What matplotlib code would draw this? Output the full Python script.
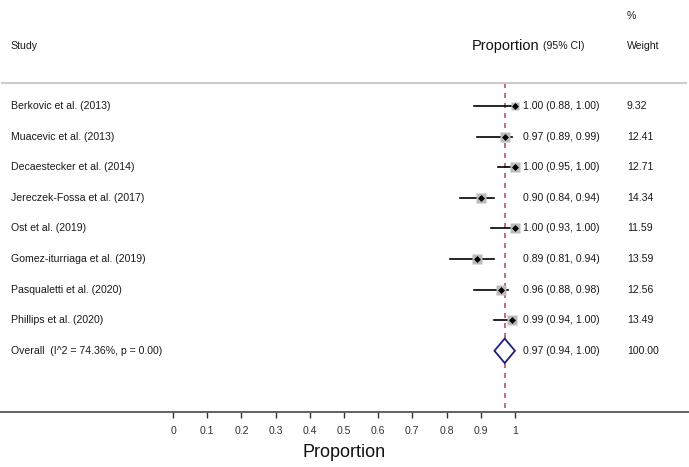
import numpy as np
import matplotlib.pyplot as plt

plt.rcParams['font.family'] = 'Liberation Sans'

# Study data
studies = ["Berkovic et al. (2013)", "Muacevic et al. (2013)", "Decaestecker et al. (2014)",
           "Jereczek-Fossa et al. (2017)", "Ost et al. (2019)", "Gomez-iturriaga et al. (2019)",
           "Pasqualetti et al. (2020)", "Phillips et al. (2020)"]
est = [1.00, 0.97, 1.00, 0.90, 1.00, 0.89, 0.96, 0.99]
lo = [0.88, 0.89, 0.95, 0.84, 0.93, 0.81, 0.88, 0.94]
hi = [1.00, 0.99, 1.00, 0.94, 1.00, 0.94, 0.98, 1.00]
weight = [9.32, 12.41, 12.71, 14.34, 11.59, 13.59, 12.56, 13.49]

overall_label = "Overall  (I^2 = 74.36%, p = 0.00)"
overall_est, overall_lo, overall_hi = 0.97, 0.94, 1.00
overall_weight = 100.00

ticks = [0, 0.1, 0.2, 0.3, 0.4, 0.5, 0.6, 0.7, 0.8, 0.9, 1]
tick_labels = ["0", "0.1", "0.2", "0.3", "0.4", "0.5", "0.6", "0.7", "0.8", "0.9", "1"]

fig = plt.figure(figsize=(6.89, 4.67), dpi=100)
ax = fig.add_axes([0, 55 / 467, 1, 412 / 467])
ax.set_xlim(-0.506, 1.509)
ax.set_ylim(10.0, -3.464)

rows = np.arange(len(studies))
fs = 7.6
tc = '#1a1a1a'
x_lab = -0.474
x_ci = 1.023
x_w = 1.327

# header
ax.text(x_lab, -1.95, "Study", fontsize=fs, va='center', color=tc)
ax.text(0.874, -1.95, "Proportion", fontsize=10.5, va='center', color='#111111')
ax.text(1.082, -1.95, "(95% CI)", fontsize=fs, va='center', color=tc)
ax.text(x_w, -2.95, "%", fontsize=fs, va='center', color=tc)
ax.text(x_w, -1.95, "Weight", fontsize=fs, va='center', color=tc)
ax.plot([-0.5, 1.5], [-0.75, -0.75], color='#cccccc', lw=1.5)

# reference line at pooled estimate
ax.plot([overall_est, overall_est], [-0.75, 10.0], color='#b5536b', lw=1.2,
        dashes=(3, 3), zorder=1)

# study rows
for i in rows:
    ax.plot([lo[i], hi[i]], [i, i], color='black', lw=1.2, zorder=2)
    ax.plot(est[i], i, marker='s', ms=2.0 * np.sqrt(weight[i]), color='#bbbbbb',
            mec='none', zorder=3)
    ax.plot(est[i], i, marker='D', ms=3.0, color='black', mew=0.5, zorder=4)
    ax.text(x_lab, i, studies[i], fontsize=fs, va='center', color=tc)
    ax.text(x_ci, i, f"{est[i]:.2f} ({lo[i]:.2f}, {hi[i]:.2f})", fontsize=fs,
            va='center', color=tc)
    ax.text(x_w, i, f"{weight[i]:.2f}", fontsize=fs, va='center', color=tc)

# overall diamond
yo = len(studies)
ax.fill([overall_lo, overall_est, overall_hi, overall_est],
        [yo, yo - 0.4, yo, yo + 0.4], facecolor='white', edgecolor='#1f1f7a',
        lw=1.3, zorder=3)
ax.text(x_lab, yo, overall_label, fontsize=fs, va='center', color=tc)
ax.text(x_ci, yo, f"{overall_est:.2f} ({overall_lo:.2f}, {overall_hi:.2f})",
        fontsize=fs, va='center', color=tc)
ax.text(x_w, yo, f"{overall_weight:.2f}", fontsize=fs, va='center', color=tc)

# axis
for s in ['top', 'right', 'left']:
    ax.spines[s].set_visible(False)
ax.spines['bottom'].set_color('#555555')
ax.spines['bottom'].set_linewidth(1.3)
ax.set_yticks([])
ax.set_xticks(ticks)
ax.set_xticklabels(tick_labels, fontsize=fs, color='#333333')
ax.tick_params(axis='x', length=4, width=1, color='#333333', pad=6)
ax.set_xlabel("Proportion", fontsize=13, labelpad=6, color='#111111')

fig.savefig("out.png", dpi=100)
